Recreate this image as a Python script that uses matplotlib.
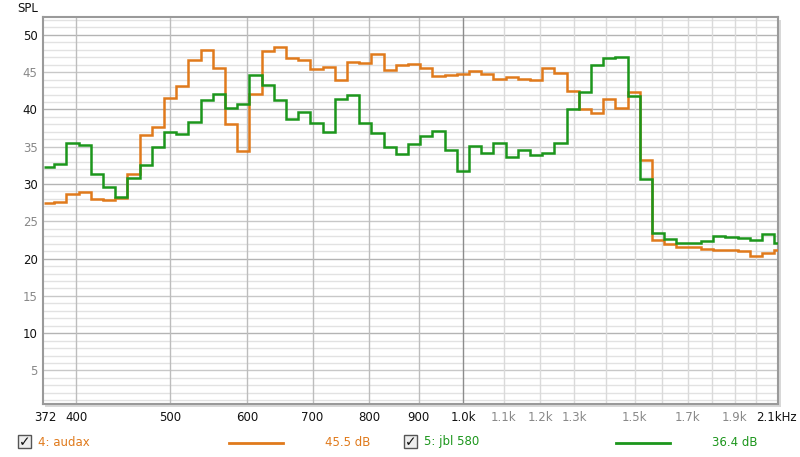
import matplotlib.pyplot as plt
from matplotlib.patches import Rectangle

# step edges (Hz) of the 1/24 octave bins
edges = [371, 379.7, 390.8, 402.3, 414.1, 426.2, 438.7, 451.5, 464.8, 478.4,
         492.4, 506.8, 521.7, 537.0, 552.7, 568.9, 585.6, 602.7, 620.4, 638.6,
         657.3, 676.5, 696.3, 716.7, 737.7, 759.4, 781.6, 804.5, 828.1, 852.3,
         877.3, 903.0, 929.5, 956.7, 984.7, 1013.6, 1043.3, 1073.9, 1105.3,
         1137.7, 1171.0, 1205.4, 1240.7, 1277.0, 1314.5, 1353.0, 1392.6,
         1433.4, 1475.4, 1518.7, 1563.2, 1609.0, 1656.1, 1704.6, 1754.6,
         1806.0, 1858.9, 1913.4, 1969.5, 2027.2, 2086.6, 2147.7]

audax = [27.4, 27.65, 28.7, 28.9, 28.0, 27.9, 28.1, 31.4, 36.6, 37.6,
         41.5, 43.2, 46.7, 48.0, 45.5, 38.0, 34.4, 42.1, 47.9, 48.4,
         46.95, 46.6, 45.4, 45.7, 43.9, 46.4, 46.2, 47.4, 45.3, 45.9,
         46.1, 45.5, 44.5, 44.6, 44.8, 45.1, 44.8, 44.05, 44.3, 44.1,
         44.0, 45.5, 44.85, 42.5, 40.0, 39.5, 41.4, 40.25, 42.3, 33.2,
         22.5, 21.9, 21.5, 21.5, 21.3, 21.2, 21.2, 21.0, 20.4, 20.7, 21.2]

jbl580 = [32.35, 32.65, 35.5, 35.3, 31.3, 29.6, 28.3, 30.8, 32.5, 35.0,
          36.95, 36.7, 38.3, 41.3, 42.05, 40.2, 40.7, 44.6, 43.25, 41.3,
          38.7, 39.7, 38.15, 36.95, 41.4, 41.95, 38.15, 36.8, 34.9, 34.0,
          35.4, 36.4, 37.1, 34.6, 31.8, 35.15, 34.1, 35.5, 33.6, 34.6,
          33.9, 34.1, 35.5, 40.0, 42.3, 45.9, 46.9, 47.0, 41.8, 30.7,
          23.4, 22.6, 22.15, 22.05, 22.3, 23.05, 22.95, 22.8, 22.5, 23.3, 22.15]

x_ticks = [372, 400, 500, 600, 700, 800, 900, 1000, 1100, 1200, 1300, 1500, 1700, 1900, 2100]
x_labels = ["372", "400", "500", "600", "700", "800", "900", "1.0k",
            "1.1k", "1.2k", "1.3k", "1.5k", "1.7k", "1.9k", "2.1kHz"]
x_label_gray = ["1.1k", "1.2k", "1.3k", "1.5k", "1.7k", "1.9k"]
y_ticks = [5, 10, 15, 20, 25, 30, 35, 40, 45, 50]

ORANGE = "#e07a1c"
GREEN = "#1c961c"

W, H = 800, 457
fig = plt.figure(figsize=(8, 4.57), dpi=100)
L, R, T, B = 43.3, 778, 17, 404

# frame shadow
fig.patches.append(Rectangle(((L + 2) / W, (H - B - 3) / H), (R - L + 1) / W, (B - T) / H,
                             transform=fig.transFigure, facecolor="#d8d8d8",
                             edgecolor="none", zorder=0))
ax = fig.add_axes([L / W, (H - B) / H, (R - L) / W, (B - T) / H])
ax.set_zorder(2)
ax.set_facecolor("white")
ax.set_xscale("log")
ax.set_xlim(370.1, 2105.8)
ax.set_ylim(0.5, 52.4)

# grid
for y in range(1, 53):
    if y % 10 == 0:
        c = "#b4b4b4"
    elif y % 5 == 0:
        c = "#c8c8c8"
    else:
        c = "#e2e2e2"
    ax.axhline(y, color=c, lw=1, zorder=0)
for f in range(400, 2001, 100):
    if f == 1000:
        c = "#8c8c8c"
    elif f < 1000:
        c = "#bdbdbd"
    else:
        c = "#dadada"
    ax.axvline(f, color=c, lw=1, zorder=0)

ax.stairs(audax, edges, baseline=None, color=ORANGE, lw=1.8, zorder=3)
ax.stairs(jbl580, edges, baseline=None, color=GREEN, lw=1.8, zorder=4)

ax.minorticks_off()
ax.set_xticks(x_ticks)
ax.set_xticklabels(x_labels)
ax.set_yticks(y_ticks)
ax.tick_params(length=0, labelsize=8.5, pad=5)
ax.tick_params(axis="y", pad=4)
for lab in ax.get_xticklabels():
    lab.set_color("#888888" if lab.get_text() in x_label_gray else "#111111")
for lab, v in zip(ax.get_yticklabels(), y_ticks):
    lab.set_color("#111111" if v % 10 == 0 else "#888888")
for s in ax.spines.values():
    s.set_color("#9a9a9a")
    s.set_linewidth(1.5)

fig.text(17 / W, 1 - 8 / H, "SPL", fontsize=8.5, color="#111111", va="center", ha="left")

# legend row
def legend_item(x0, name, line_x, value, color):
    yc = 1 - 442 / H
    fig.patches.append(Rectangle((x0 / W, 1 - 448 / H), 13 / W, 13 / H,
                                 transform=fig.transFigure, facecolor="#eeeeee",
                                 edgecolor="#555555", lw=1))
    fig.text((x0 + 6.5) / W, yc, "\u2713", fontsize=10, color="#111111",
             ha="center", va="center", fontweight="bold")
    fig.text((x0 + 20) / W, yc, name, fontsize=8.5, color=color, va="center")
    fig.lines.append(plt.Line2D([line_x / W, (line_x + 54) / W], [1 - 443 / H] * 2,
                                transform=fig.transFigure, color=color, lw=2))
    fig.text((line_x + 96) / W, yc, value, fontsize=8.5, color=color, va="center")

legend_item(18, "4: audax", 229, "45.5 dB", ORANGE)
legend_item(404, "5: jbl 580", 616, "36.4 dB", GREEN)

fig.savefig("out.png", dpi=100)
